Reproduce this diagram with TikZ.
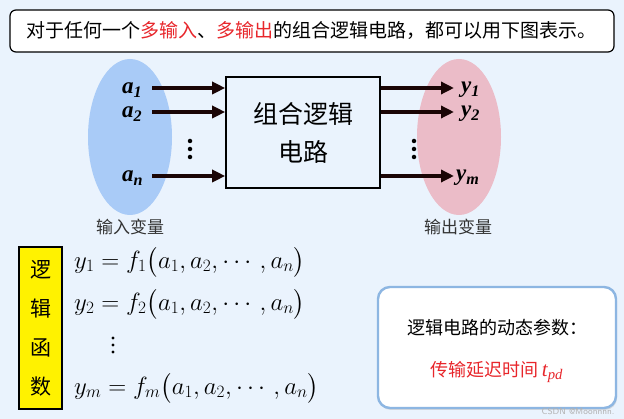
\documentclass[tikz,border=0pt]{standalone}
\usepackage{amsmath}
\usepackage{fontspec}
\setmainfont{Liberation Serif}
\newfontfamily\cjk{Noto Sans CJK SC}
\usetikzlibrary{arrows.meta,shadows}
\definecolor{bg}{HTML}{EAF3FD}
\definecolor{inblue}{HTML}{A9CBF7}
\definecolor{outpink}{HTML}{EBBCC8}
\definecolor{myred}{HTML}{E8262B}
\definecolor{boxblue}{HTML}{8DB6E2}
\definecolor{arr}{HTML}{1A0505}
\begin{document}
\begin{tikzpicture}[x=1pt,y=-1pt,
  sig/.style={line width=3.6pt,-{Triangle[length=13pt,width=12pt]},draw=arr},
  var/.style={font=\fontsize{23}{24}\selectfont\bfseries\itshape,anchor=west,inner sep=0pt},
  lab/.style={font=\cjk\fontsize{17}{18}\selectfont,text=black!80,inner sep=1pt},
  eq/.style={font=\fontsize{23}{26}\selectfont,anchor=west,inner sep=0pt},
  dot/.style={fill=black,circle,inner sep=0pt,minimum size=4.5pt},
  sdot/.style={fill=black,circle,inner sep=0pt,minimum size=3.2pt}]
\useasboundingbox (0,0) rectangle (624,419);
\fill[bg] (0,0) rectangle (624,419);
% top box
\node[draw,line width=1.2pt,rounded corners=6pt,fill=white,minimum width=604pt,minimum height=42pt,font=\cjk\fontsize{19}{22}\selectfont] (top) at (312,31)
 {对于任何一个\textcolor{myred}{多输入}、\textcolor{myred}{多输出}的组合逻辑电路，都可以用下图表示。};
% ellipses
\fill[inblue] (130,137) ellipse [x radius=42, y radius=78];
\fill[outpink] (459,137) ellipse [x radius=42, y radius=78];
\node[lab] (inl) at (130,227) {输入变量};
\node[lab] (outl) at (458,227) {输出变量};
% block
\node[draw,line width=1.6pt,minimum width=154pt,minimum height=111pt,align=center,font=\cjk\fontsize{25}{38}\selectfont] (blk) at (303,132.5) {组合逻辑\\电路};
% inputs
\node[var] (a1) at (122,90) {a\textsubscript{1}};
\node[var] (a2) at (122,114) {a\textsubscript{2}};
\node[var] (an) at (122,178) {a\textsubscript{n}};
\coordinate (i1) at (152,88); \coordinate (i2) at (152,112); \coordinate (i3) at (152,176);
\draw[sig] (i1) -- (i1 -| blk.west);
\draw[sig] (i2) -- (i2 -| blk.west);
\draw[sig] (i3) -- (i3 -| blk.west);
\node[dot] (d1a) at (190,141) {}; \node[dot] (d1b) at (190,149) {}; \node[dot] (d1c) at (190,157) {};
% outputs
\node[var] (y1) at (461,90) {y\textsubscript{1}};
\node[var] (y2) at (461,114) {y\textsubscript{2}};
\node[var] (ym) at (456,178) {y\textsubscript{m}};
\coordinate (o1) at (454,88); \coordinate (o2) at (454,112); \coordinate (o3) at (454,176);
\draw[sig] (o1 -| blk.east) -- (o1);
\draw[sig] (o2 -| blk.east) -- (o2);
\draw[sig] (o3 -| blk.east) -- (o3);
\node[dot] (d2a) at (414,141) {}; \node[dot] (d2b) at (414,149) {}; \node[dot] (d2c) at (414,157) {};
% yellow box
\node[draw,line width=1.2pt,fill=yellow,minimum width=43pt,minimum height=162pt,align=center,font=\cjk\fontsize{21}{39}\selectfont] (yb) at (40.5,328) {逻\\辑\\函\\数};
% equations
\node[eq] (e1) at (74,262) {$y_1 = f_1\bigl(a_1,a_2,\cdots,a_n\bigr)$};
\node[eq] (e2) at (74,304) {$y_2 = f_2\bigl(a_1,a_2,\cdots,a_n\bigr)$};
\node[sdot] (e3a) at (113,338) {}; \node[sdot] (e3b) at (113,345) {}; \node[sdot] (e3c) at (113,352) {};
\node[eq] (e4) at (74,388) {$y_m = f_m\bigl(a_1,a_2,\cdots,a_n\bigr)$};
% bottom box
\node[draw=boxblue,line width=2.4pt,rounded corners=12pt,fill=white,minimum width=238pt,minimum height=121pt,drop shadow={shadow xshift=1pt,shadow yshift=-2pt,fill=black!25}] (pb) at (497,347.5) {};
\node[font=\cjk\fontsize{18}{22}\selectfont] (pt1) at (497,328) {逻辑电路的动态参数：};
\node[font=\cjk\fontsize{18}{22}\selectfont,text=myred] (pt2) at (497,372) {传输延迟时间\,{\rmfamily\fontsize{21}{22}\selectfont\itshape t\textsubscript{pd}}};
\node[font=\sffamily\fontsize{9}{10}\selectfont,text=black!30,anchor=east] (wm) at (618,411) {CSDN @Moonnnn.};
\end{tikzpicture}
\end{document}
